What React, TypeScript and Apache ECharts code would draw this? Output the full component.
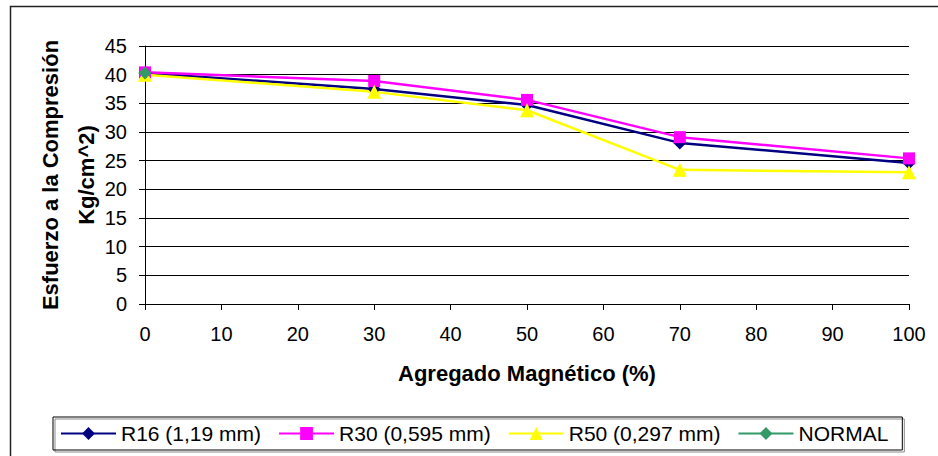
import React, { useEffect, useRef } from "react";
import * as echarts from "echarts";

const xValues = [0, 30, 50, 70, 100];
const r16 = [40.3, 37.5, 34.7, 28.1, 24.6];
const r30 = [40.4, 38.9, 35.6, 29.1, 25.4];
const r50 = [40.0, 37.0, 33.8, 23.4, 23.0];
const normal = [40.3];

const seriesNames = ["R16 (1,19 mm)", "R30 (0,595 mm)", "R50 (0,297 mm)", "NORMAL"];

const FONT = "Liberation Sans, Arial, sans-serif";

export default function App() {
  const ref = useRef<HTMLDivElement>(null);
  useEffect(() => {
    if (!ref.current) return;
    const chart = echarts.init(ref.current, undefined, { renderer: "svg" });
    const pts = (ys: number[]) => ys.map((y, i) => [xValues[i], y]);
    chart.setOption({
      animation: false,
      backgroundColor: "#fff",
      textStyle: { fontFamily: FONT, color: "#000" },
      grid: { left: 145, right: 29, top: 46, bottom: 152, outerBoundsMode: "none", containLabel: false },
      graphic: [
        {
          type: "rect",
          shape: { x: 10.5, y: 6.5, width: 1000, height: 600 },
          style: { fill: "none", stroke: "#222", lineWidth: 1.5 },
          silent: true,
        },
      ],
      xAxis: {
        type: "value",
        min: 0,
        max: 100,
        interval: 10,
        name: "Agregado Magnético (%)",
        nameLocation: "middle",
        nameGap: 58,
        nameTextStyle: { fontFamily: FONT, fontSize: 22, fontWeight: "bold", color: "#000" },
        axisLine: { show: true, lineStyle: { color: "#000", width: 1 } },
        axisTick: { show: true, length: 6, lineStyle: { color: "#000" } },
        axisLabel: { fontFamily: FONT, fontSize: 20, color: "#000", margin: 20 },
        splitLine: { show: false },
      },
      yAxis: {
        type: "value",
        min: 0,
        max: 45,
        interval: 5,
        name: "Esfuerzo a la Compresión\nKg/cm^2)",
        nameLocation: "middle",
        nameRotate: 90,
        nameGap: 41,
        nameMoveOverlap: false,
        nameTextStyle: {
          fontFamily: FONT,
          fontSize: 22,
          fontWeight: "bold",
          color: "#000",
          lineHeight: 36,
          align: "center",
        },
        axisLine: { show: true, lineStyle: { color: "#000", width: 1 } },
        axisTick: { show: true, length: 6, lineStyle: { color: "#000" } },
        axisLabel: { fontFamily: FONT, fontSize: 20, color: "#000", margin: 18 },
        splitLine: { show: true, lineStyle: { color: "#000", width: 1 } },
      },
      legend: {
        left: 53,
        top: 417,
        padding: [6, 14, 6, 7],
        itemWidth: 55,
        itemHeight: 16,
        itemGap: 17,
        borderColor: "#000",
        borderWidth: 1,
        shadowColor: "rgba(0,0,0,0.45)",
        shadowOffsetX: 2,
        shadowOffsetY: 2,
        textStyle: { fontFamily: FONT, fontSize: 21, color: "#000" },
        data: seriesNames,
      },
      series: [
        {
          name: seriesNames[0],
          type: "line",
          data: pts(r16),
          symbol: "diamond",
          symbolSize: 13,
          lineStyle: { color: "#000080", width: 2.5 },
          itemStyle: { color: "#000080" },
        },
        {
          name: seriesNames[1],
          type: "line",
          data: pts(r30),
          symbol: "rect",
          symbolSize: 12,
          lineStyle: { color: "#FF00FF", width: 2.5 },
          itemStyle: { color: "#FF00FF" },
        },
        {
          name: seriesNames[2],
          type: "line",
          data: pts(r50),
          symbol: "triangle",
          symbolSize: 14,
          lineStyle: { color: "#FFFF00", width: 2.5 },
          itemStyle: { color: "#FFFF00" },
        },
        {
          name: seriesNames[3],
          type: "line",
          data: pts(normal),
          symbol: "diamond",
          symbolSize: 13,
          lineStyle: { color: "#339966", width: 2.5 },
          itemStyle: { color: "#339966" },
        },
      ],
    });
    return () => chart.dispose();
  }, []);
  return (
    <div
      ref={ref}
      style={{ position: "fixed", left: 0, top: 0, width: 938, height: 456 }}
    />
  );
}
